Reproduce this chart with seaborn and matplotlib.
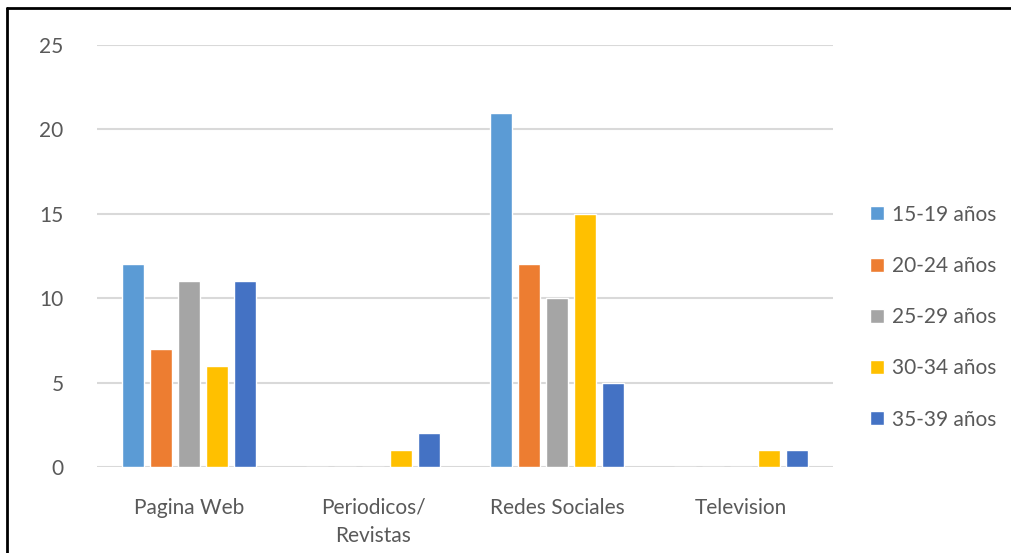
import pandas as pd
import seaborn as sns
import matplotlib.pyplot as plt
from matplotlib.lines import Line2D

# Datos
categorias = ['Pagina Web', 'Periodicos/\nRevistas', 'Redes Sociales', 'Television']
grupos = ['15-19 años', '20-24 años', '25-29 años', '30-34 años', '35-39 años']
v_15_19 = [12, 0, 21, 0]
v_20_24 = [7, 0, 12, 0]
v_25_29 = [11, 0, 10, 0]
v_30_34 = [6, 1, 15, 1]
v_35_39 = [11, 2, 5, 1]
colores = ['#5B9BD5', '#ED7D31', '#A5A5A5', '#FFC000', '#4472C4']

valores = [v_15_19, v_20_24, v_25_29, v_30_34, v_35_39]
filas = []
for g, vals in zip(grupos, valores):
    for c, v in zip(categorias, vals):
        filas.append({'Categoria': c, 'Grupo': g, 'Valor': v})
df = pd.DataFrame(filas)

sns.set_style('white')
plt.rcParams['font.family'] = ['Lato', 'DejaVu Sans']

fig = plt.figure(figsize=(10.11, 5.53), dpi=100)
ax = fig.add_axes([0.096, 0.1555, 0.728, 0.7631])

sns.barplot(data=df, x='Categoria', y='Valor', hue='Grupo', palette=colores,
            width=0.76, gap=0.2, ax=ax, saturation=1, legend=True)

ax.set_ylim(0, 25)
ax.set_xlim(-0.5, 3.5)
ax.set_yticks([0, 5, 10, 15, 20, 25])
ax.yaxis.grid(True, color='#D9D9D9', linewidth=1.5)
ax.set_axisbelow(True)
for s in ax.spines.values():
    s.set_visible(False)
ax.set_xlabel('')
ax.set_ylabel('')
ax.tick_params(axis='both', length=0, labelsize=15, labelcolor='#595959')
ax.tick_params(axis='y', pad=24)
ax.tick_params(axis='x', pad=22)
for t in ax.get_xticklabels():
    t.set_linespacing(1.55)

# Leyenda
ax.legend(loc='center left', bbox_to_anchor=(1.025, 0.355), frameon=False,
          fontsize=15, labelcolor='#595959', handlelength=0.65, handleheight=0.65,
          handletextpad=0.4, labelspacing=1.5)

# Marco
fig.add_artist(Line2D([0.007, 0.007], [0, 0.986], color='black', linewidth=2, transform=fig.transFigure))
fig.add_artist(Line2D([0.007, 1], [0.986, 0.986], color='black', linewidth=2, transform=fig.transFigure))

fig.savefig('out.png', dpi=100)
